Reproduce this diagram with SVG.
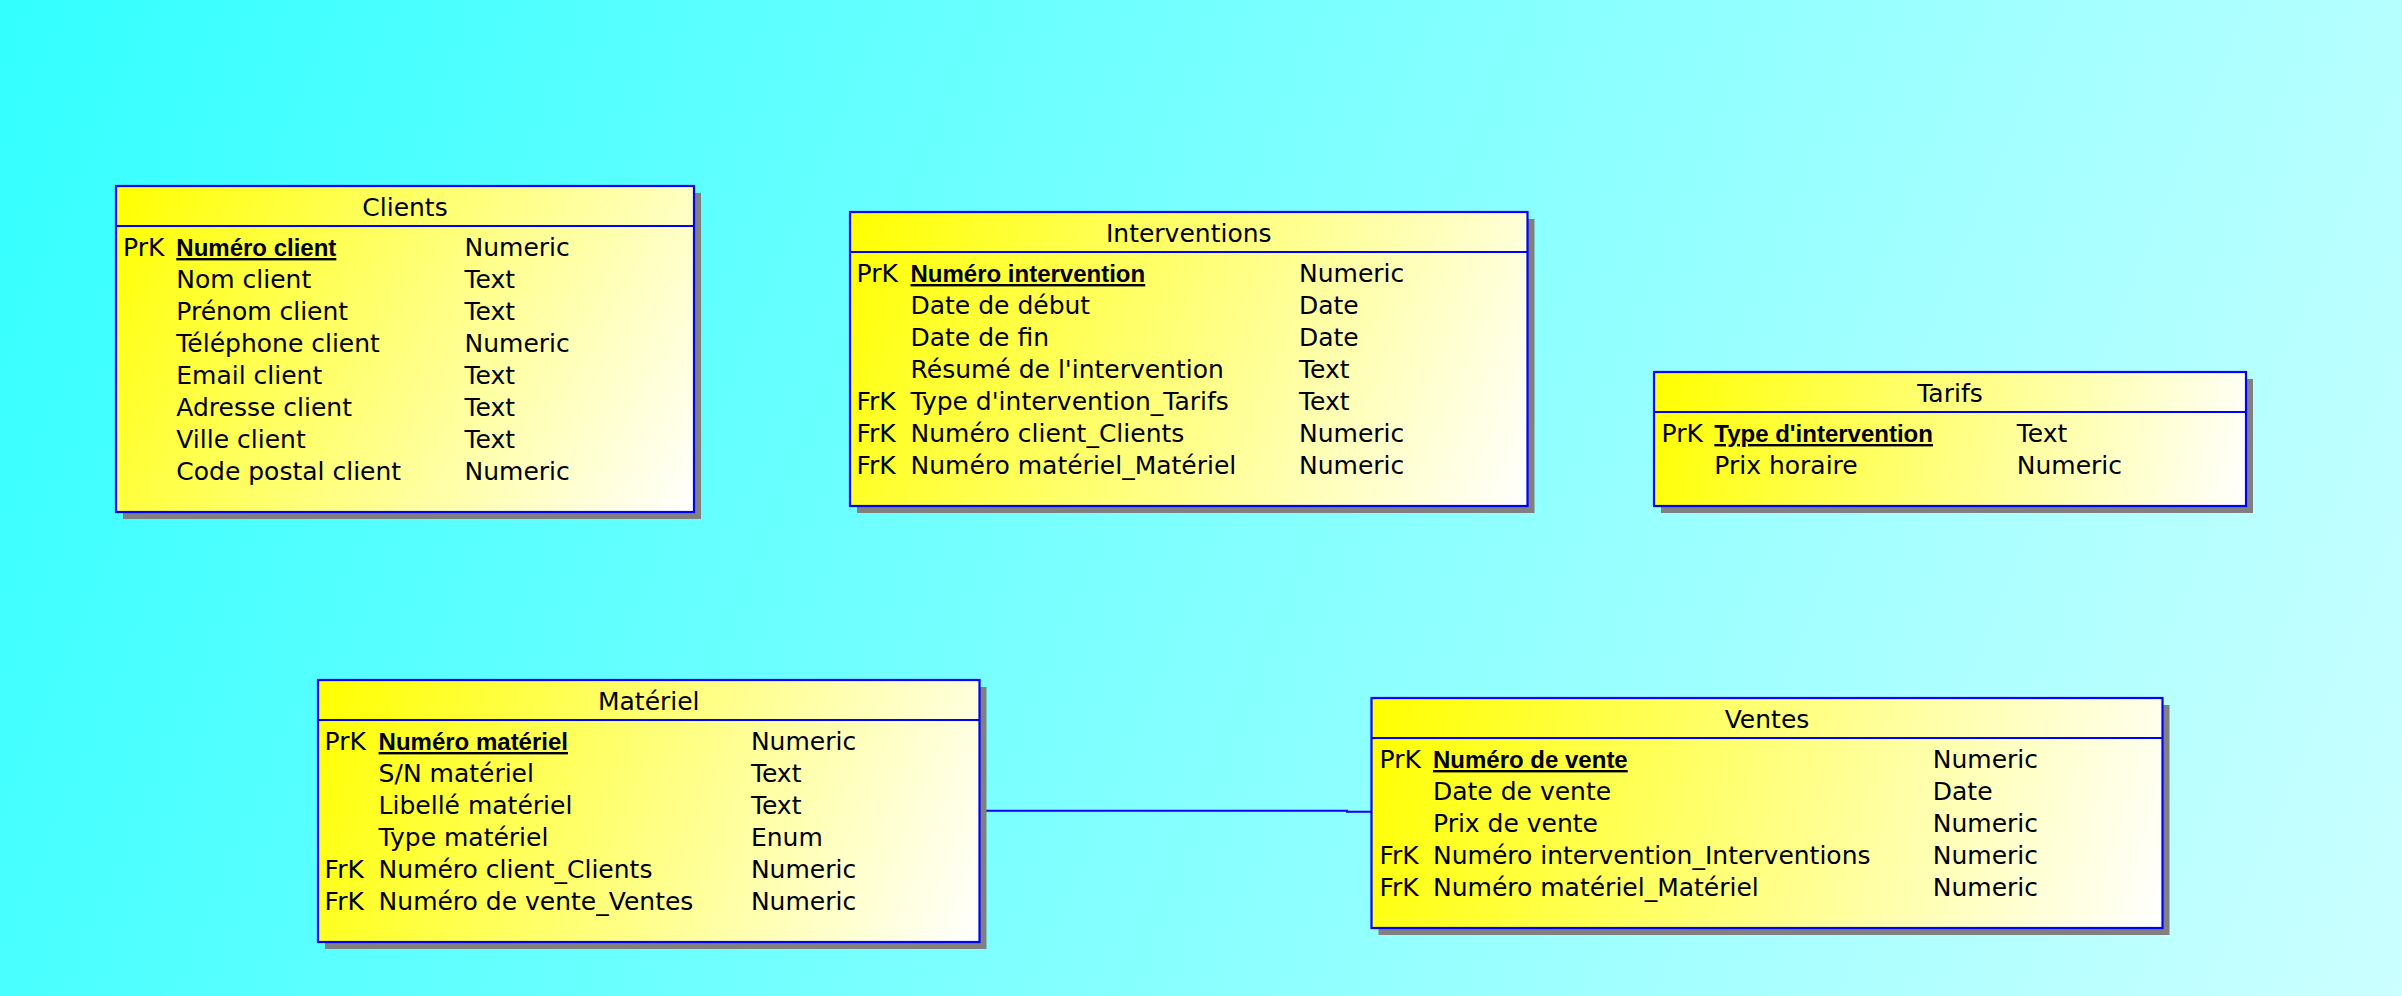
<svg xmlns="http://www.w3.org/2000/svg" width="2402" height="996" viewBox="0 0 2402 996">
<defs>
<linearGradient id="bg" gradientUnits="userSpaceOnUse" x1="0" y1="0" x2="2402" y2="996">
<stop offset="0" stop-color="#33ffff"/>
<stop offset="1" stop-color="#ccffff"/>
</linearGradient>
<linearGradient id="gClients" gradientUnits="userSpaceOnUse" x1="116" y1="186" x2="694" y2="512">
<stop offset="0" stop-color="#ffff00"/><stop offset="1" stop-color="#ffffff"/>
</linearGradient>
<linearGradient id="gInterventions" gradientUnits="userSpaceOnUse" x1="850" y1="212" x2="1527.5" y2="506">
<stop offset="0" stop-color="#ffff00"/><stop offset="1" stop-color="#ffffff"/>
</linearGradient>
<linearGradient id="gTarifs" gradientUnits="userSpaceOnUse" x1="1654" y1="372" x2="2246" y2="506">
<stop offset="0" stop-color="#ffff00"/><stop offset="1" stop-color="#ffffff"/>
</linearGradient>
<linearGradient id="gMateriel" gradientUnits="userSpaceOnUse" x1="318" y1="680" x2="979.5" y2="942">
<stop offset="0" stop-color="#ffff00"/><stop offset="1" stop-color="#ffffff"/>
</linearGradient>
<linearGradient id="gVentes" gradientUnits="userSpaceOnUse" x1="1371.5" y1="698" x2="2162.5" y2="928">
<stop offset="0" stop-color="#ffff00"/><stop offset="1" stop-color="#ffffff"/>
</linearGradient>
</defs>
<style>
.shadow{fill:#808080;}
.box{stroke:#0000ff;stroke-width:2.2;}
.sep{stroke:#0000ff;stroke-width:2.2;}
.t{font-family:"DejaVu Sans","Verdana",sans-serif;font-size:25px;fill:#000;}
.title{text-anchor:middle;}
.pk{font-family:"Liberation Sans",Arial,sans-serif;font-size:24px;font-weight:bold;text-decoration:underline;fill:#000;}
.conn{fill:none;stroke:#0000ff;stroke-width:2;}
</style>
<rect x="0" y="0" width="2402" height="996" fill="url(#bg)"/>

<g id="connectors">
<path class="conn" d="M980,810.7 H1347 V811.7 H1371.5"/>
</g>

<g id="clients">
<rect class="shadow" x="123" y="193" width="578" height="326"/>
<rect class="box" x="116" y="186" width="578" height="326" fill="url(#gClients)"/>
<line class="sep" x1="116" y1="226" x2="694" y2="226"/>
<text class="t title" x="405" y="215.5">Clients</text>
<text class="t" x="123" y="256">PrK</text>
<text class="pk" x="176.3" y="256">Numéro client</text>
<text class="t" x="464.5" y="256">Numeric</text>
<text class="t" x="176.3" y="288">Nom client</text>
<text class="t" x="464.5" y="288">Text</text>
<text class="t" x="176.3" y="320">Prénom client</text>
<text class="t" x="464.5" y="320">Text</text>
<text class="t" x="176.3" y="352">Téléphone client</text>
<text class="t" x="464.5" y="352">Numeric</text>
<text class="t" x="176.3" y="384">Email client</text>
<text class="t" x="464.5" y="384">Text</text>
<text class="t" x="176.3" y="416">Adresse client</text>
<text class="t" x="464.5" y="416">Text</text>
<text class="t" x="176.3" y="448">Ville client</text>
<text class="t" x="464.5" y="448">Text</text>
<text class="t" x="176.3" y="480">Code postal client</text>
<text class="t" x="464.5" y="480">Numeric</text>
</g>

<g id="interventions">
<rect class="shadow" x="857" y="219" width="677.5" height="294"/>
<rect class="box" x="850" y="212" width="677.5" height="294" fill="url(#gInterventions)"/>
<line class="sep" x1="850" y1="252" x2="1527.5" y2="252"/>
<text class="t title" x="1188.75" y="241.5">Interventions</text>
<text class="t" x="856.5" y="282">PrK</text>
<text class="pk" x="910.5" y="282">Numéro intervention</text>
<text class="t" x="1299" y="282">Numeric</text>
<text class="t" x="910.5" y="314">Date de début</text>
<text class="t" x="1299" y="314">Date</text>
<text class="t" x="910.5" y="346">Date de fin</text>
<text class="t" x="1299" y="346">Date</text>
<text class="t" x="910.5" y="378">Résumé de l'intervention</text>
<text class="t" x="1299" y="378">Text</text>
<text class="t" x="856.5" y="410">FrK</text>
<text class="t" x="910.5" y="410">Type d'intervention_Tarifs</text>
<text class="t" x="1299" y="410">Text</text>
<text class="t" x="856.5" y="442">FrK</text>
<text class="t" x="910.5" y="442">Numéro client_Clients</text>
<text class="t" x="1299" y="442">Numeric</text>
<text class="t" x="856.5" y="474">FrK</text>
<text class="t" x="910.5" y="474">Numéro matériel_Matériel</text>
<text class="t" x="1299" y="474">Numeric</text>
</g>

<g id="tarifs">
<rect class="shadow" x="1661" y="379" width="592" height="134"/>
<rect class="box" x="1654" y="372" width="592" height="134" fill="url(#gTarifs)"/>
<line class="sep" x1="1654" y1="412" x2="2246" y2="412"/>
<text class="t title" x="1950" y="401.5">Tarifs</text>
<text class="t" x="1661.5" y="442">PrK</text>
<text class="pk" x="1714.3" y="442">Type d'intervention</text>
<text class="t" x="2016.8" y="442">Text</text>
<text class="t" x="1714.3" y="474">Prix horaire</text>
<text class="t" x="2016.8" y="474">Numeric</text>
</g>

<g id="materiel">
<rect class="shadow" x="325" y="687" width="661.5" height="262"/>
<rect class="box" x="318" y="680" width="661.5" height="262" fill="url(#gMateriel)"/>
<line class="sep" x1="318" y1="720" x2="979.5" y2="720"/>
<text class="t title" x="648.75" y="709.5">Matériel</text>
<text class="t" x="324.6" y="750">PrK</text>
<text class="pk" x="378.6" y="750">Numéro matériel</text>
<text class="t" x="750.9" y="750">Numeric</text>
<text class="t" x="378.6" y="782">S/N matériel</text>
<text class="t" x="750.9" y="782">Text</text>
<text class="t" x="378.6" y="814">Libellé matériel</text>
<text class="t" x="750.9" y="814">Text</text>
<text class="t" x="378.6" y="846">Type matériel</text>
<text class="t" x="750.9" y="846">Enum</text>
<text class="t" x="324.6" y="878">FrK</text>
<text class="t" x="378.6" y="878">Numéro client_Clients</text>
<text class="t" x="750.9" y="878">Numeric</text>
<text class="t" x="324.6" y="910">FrK</text>
<text class="t" x="378.6" y="910">Numéro de vente_Ventes</text>
<text class="t" x="750.9" y="910">Numeric</text>
</g>

<g id="ventes">
<rect class="shadow" x="1378.5" y="705" width="791" height="230"/>
<rect class="box" x="1371.5" y="698" width="791" height="230" fill="url(#gVentes)"/>
<line class="sep" x1="1371.5" y1="738" x2="2162.5" y2="738"/>
<text class="t title" x="1767" y="727.5">Ventes</text>
<text class="t" x="1379.5" y="768">PrK</text>
<text class="pk" x="1433" y="768">Numéro de vente</text>
<text class="t" x="1932.8" y="768">Numeric</text>
<text class="t" x="1433" y="800">Date de vente</text>
<text class="t" x="1932.8" y="800">Date</text>
<text class="t" x="1433" y="832">Prix de vente</text>
<text class="t" x="1932.8" y="832">Numeric</text>
<text class="t" x="1379.5" y="864">FrK</text>
<text class="t" x="1433" y="864">Numéro intervention_Interventions</text>
<text class="t" x="1932.8" y="864">Numeric</text>
<text class="t" x="1379.5" y="896">FrK</text>
<text class="t" x="1433" y="896">Numéro matériel_Matériel</text>
<text class="t" x="1932.8" y="896">Numeric</text>
</g>
</svg>
